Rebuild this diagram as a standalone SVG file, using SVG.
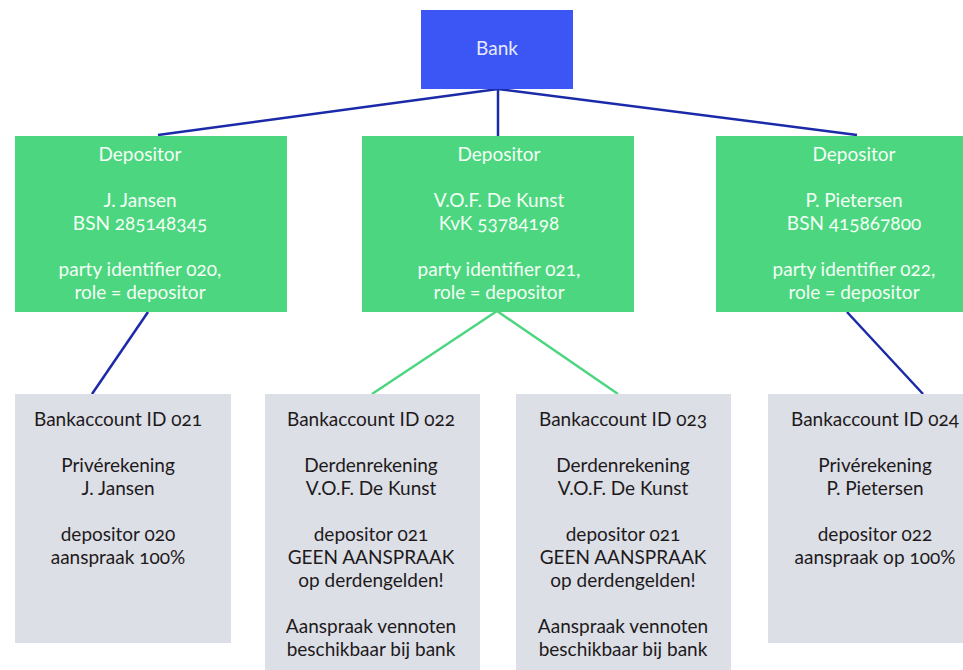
<svg xmlns="http://www.w3.org/2000/svg" width="963" height="670" viewBox="0 0 963 670">
<style>
text{font-family:"Lato","Open Sans","Liberation Sans",sans-serif;font-size:19px;text-anchor:middle;font-variant-numeric:oldstyle-nums;font-feature-settings:"onum" 1;}
.bank{fill:#3c55f5}
.dep{fill:#4cd680}
.acc{fill:#dcdfe6}
.tw{fill:#f4fff6}
.tb{fill:#e6eaff}
.td{fill:#1e1a1c}
.lb{stroke:#1a2aa8;stroke-width:2.5;fill:none}
.lg{stroke:#4cd680;stroke-width:2.5;fill:none}
</style>
<g id="connectors">
<line class="lb" x1="498" y1="89" x2="158" y2="135"/>
<line class="lb" x1="498" y1="89" x2="498" y2="136"/>
<line class="lb" x1="498" y1="89" x2="857" y2="135"/>
<line class="lb" x1="148" y1="312" x2="92" y2="394"/>
<line class="lg" x1="497" y1="311" x2="372" y2="394"/>
<line class="lg" x1="497" y1="311" x2="618" y2="394"/>
<line class="lb" x1="847" y1="312" x2="923" y2="394"/>
</g>
<g id="bank">
<rect class="bank" x="421" y="10" width="152" height="79"/>
<text class="tb" x="497" y="55">Bank</text>
</g>
<g id="dep1">
<rect class="dep" x="15" y="136" width="272" height="176"/>
<text class="tw" x="140" y="161">Depositor</text>
<text class="tw" x="140" y="207">J. Jansen</text>
<text class="tw" x="140" y="230">BSN 285148345</text>
<text class="tw" x="140" y="276">party identifier 020,</text>
<text class="tw" x="140" y="299">role = depositor</text>
</g>
<g id="dep2">
<rect class="dep" x="362" y="136" width="272" height="176"/>
<text class="tw" x="499" y="161">Depositor</text>
<text class="tw" x="499" y="207">V.O.F. De Kunst</text>
<text class="tw" x="499" y="230">KvK 53784198</text>
<text class="tw" x="499" y="276">party identifier 021,</text>
<text class="tw" x="499" y="299">role = depositor</text>
</g>
<g id="dep3">
<rect class="dep" x="716" y="136" width="276" height="176"/>
<text class="tw" x="854" y="161">Depositor</text>
<text class="tw" x="854" y="207">P. Pietersen</text>
<text class="tw" x="854" y="230">BSN 415867800</text>
<text class="tw" x="854" y="276">party identifier 022,</text>
<text class="tw" x="854" y="299">role = depositor</text>
</g>
<g id="acc1">
<rect class="acc" x="15" y="394" width="216" height="249"/>
<text class="td" x="118" y="426">Bankaccount ID 021</text>
<text class="td" x="118" y="472">Privérekening</text>
<text class="td" x="118" y="495">J. Jansen</text>
<text class="td" x="118" y="541">depositor 020</text>
<text class="td" x="118" y="564">aanspraak 100%</text>
</g>
<g id="acc2">
<rect class="acc" x="265" y="394" width="215" height="280"/>
<text class="td" x="371" y="426">Bankaccount ID 022</text>
<text class="td" x="371" y="472">Derdenrekening</text>
<text class="td" x="371" y="495">V.O.F. De Kunst</text>
<text class="td" x="371" y="541">depositor 021</text>
<text class="td" x="371" y="564">GEEN AANSPRAAK</text>
<text class="td" x="371" y="587">op derdengelden!</text>
<text class="td" x="371" y="633">Aanspraak vennoten</text>
<text class="td" x="371" y="656">beschikbaar bij bank</text>
</g>
<g id="acc3">
<rect class="acc" x="516" y="394" width="215" height="280"/>
<text class="td" x="623" y="426">Bankaccount ID 023</text>
<text class="td" x="623" y="472">Derdenrekening</text>
<text class="td" x="623" y="495">V.O.F. De Kunst</text>
<text class="td" x="623" y="541">depositor 021</text>
<text class="td" x="623" y="564">GEEN AANSPRAAK</text>
<text class="td" x="623" y="587">op derdengelden!</text>
<text class="td" x="623" y="633">Aanspraak vennoten</text>
<text class="td" x="623" y="656">beschikbaar bij bank</text>
</g>
<g id="acc4">
<rect class="acc" x="768" y="394" width="214" height="249"/>
<text class="td" x="875" y="426">Bankaccount ID 024</text>
<text class="td" x="875" y="472">Privérekening</text>
<text class="td" x="875" y="495">P. Pietersen</text>
<text class="td" x="875" y="541">depositor 022</text>
<text class="td" x="875" y="564">aanspraak op 100%</text>
</g>
</svg>
